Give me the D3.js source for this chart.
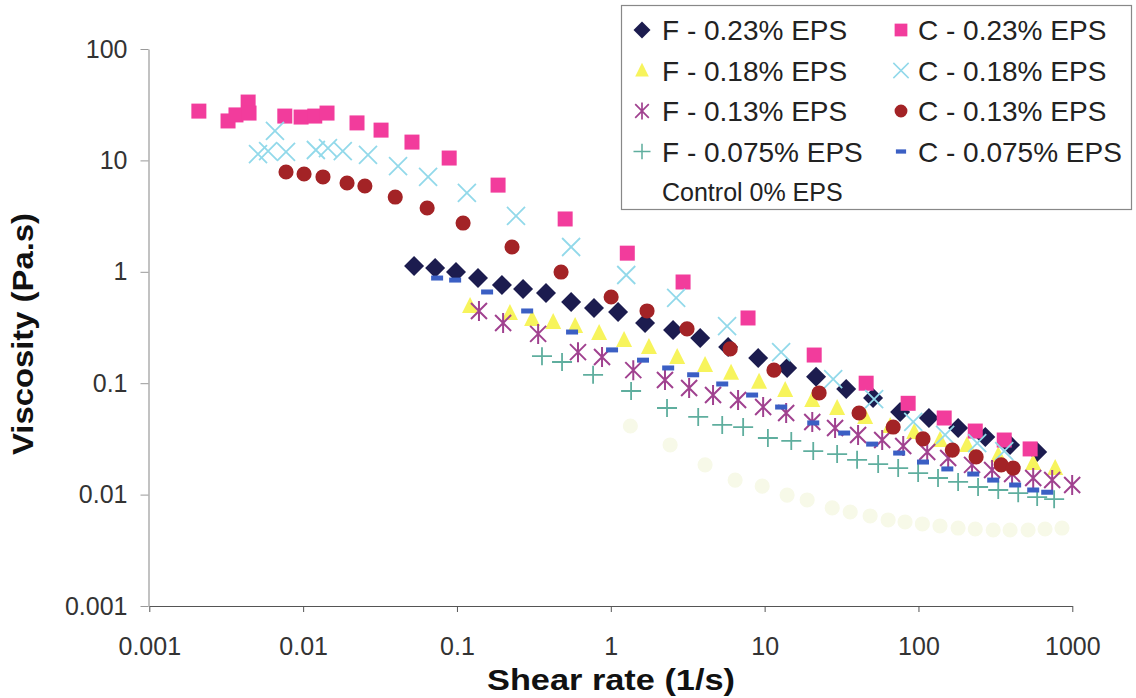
<!DOCTYPE html>
<html>
<head>
<meta charset="utf-8">
<script src="https://cdn.jsdelivr.net/npm/d3@7"></script>
<style>
  html, body { margin: 0; padding: 0; background: #fff; }
  svg { display: block; }
  text { font-family: Arial, "Liberation Sans", sans-serif; }
</style>
</head>
<body>
<svg id="chart" width="1136" height="698"></svg>
<script>
// ---------------- DATA ----------------
const xTickValues = [0.001, 0.01, 0.1, 1, 10, 100, 1000];
const xTickLabels = ["0.001", "0.01", "0.1", "1", "10", "100", "1000"];
const yTickValues = [0.001, 0.01, 0.1, 1, 10, 100];
const yTickLabels = ["0.001", "0.01", "0.1", "1", "10", "100"];

const seriesNames = ["F - 0.23% EPS", "C - 0.23% EPS", "F - 0.18% EPS", "C - 0.18% EPS",
                     "F - 0.13% EPS", "C - 0.13% EPS", "F - 0.075% EPS", "C - 0.075% EPS",
                     "Control 0% EPS"];

// F - 0.23% EPS (diamonds)
const f023Shear = [0.0526, 0.0721, 0.0986, 0.137, 0.196, 0.269, 0.379, 0.552, 0.778, 1.115, 1.67, 2.54, 3.81, 5.79, 9.08, 14.0, 21.6, 33.9, 50.7, 76.0, 117, 181, 272, 394, 591];
const f023Visc  = [1.13, 1.08, 0.995, 0.879, 0.762, 0.701, 0.645, 0.536, 0.473, 0.436, 0.347, 0.300, 0.255, 0.211, 0.168, 0.137, 0.114, 0.0887, 0.0736, 0.0551, 0.0487, 0.0396, 0.0329, 0.0279, 0.0241];

// C - 0.23% EPS (squares)
const c023Shear = [0.0021, 0.00325, 0.00366, 0.00439, 0.00445, 0.0076, 0.0097, 0.0119, 0.0143, 0.0224, 0.0321, 0.051, 0.089, 0.185, 0.505, 1.28, 2.95, 7.8, 21, 45.7, 85.7, 147, 234, 361, 532];
const c023Visc  = [27.7, 22.6, 25.6, 33.4, 26.6, 25.0, 24.5, 25.0, 26.6, 21.7, 18.7, 14.6, 10.5, 6.0, 2.98, 1.47, 0.81, 0.385, 0.179, 0.100, 0.066, 0.0487, 0.0372, 0.0309, 0.0257];

// F - 0.18% EPS (triangles)
const f018Shear = [0.1216, 0.221, 0.308, 0.422, 0.586, 0.840, 1.22, 1.77, 2.70, 4.10, 6.05, 9.20, 13.6, 20.4, 29.6, 45.0, 65.5, 93.8, 138, 207, 330, 557, 774];
const f018Visc  = [0.493, 0.427, 0.377, 0.354, 0.326, 0.282, 0.244, 0.211, 0.172, 0.146, 0.124, 0.103, 0.0869, 0.0707, 0.0599, 0.0498, 0.0413, 0.0365, 0.0309, 0.0279, 0.0226, 0.0192, 0.0173];

// C - 0.18% EPS (crosses)
const c018Shear = [0.00509, 0.00592, 0.00656, 0.00774, 0.0121, 0.0145, 0.0181, 0.0264, 0.0414, 0.0649, 0.116, 0.242, 0.552, 1.26, 2.66, 5.70, 12.8, 27.9, 51.5, 92.5, 149, 241, 361];
const c018Visc  = [11.4, 12.1, 18.4, 11.9, 12.4, 12.9, 12.1, 11.2, 8.9, 7.1, 5.1, 3.17, 1.67, 0.936, 0.582, 0.326, 0.190, 0.109, 0.0721, 0.0449, 0.0343, 0.0290, 0.0246];

// F - 0.13% EPS (asterisks)
const f013Shear = [0.139, 0.1995, 0.337, 0.612, 0.877, 1.40, 2.25, 3.23, 4.62, 6.72, 9.78, 13.8, 20.4, 28.7, 40.5, 58.1, 79.6, 114, 156, 223, 301, 406, 557, 740, 998];
const f013Visc  = [0.445, 0.347, 0.277, 0.190, 0.172, 0.131, 0.107, 0.0906, 0.0783, 0.0707, 0.0611, 0.0540, 0.0449, 0.0396, 0.0343, 0.0309, 0.0273, 0.0241, 0.0213, 0.0185, 0.0166, 0.0153, 0.0141, 0.0135, 0.0122];

// C - 0.13% EPS (circles)
const c013Shear = [0.00774, 0.01014, 0.01346, 0.0193, 0.0252, 0.0397, 0.064, 0.1096, 0.228, 0.475, 1.005, 1.72, 3.13, 5.97, 11.5, 22.6, 41.1, 68.5, 107, 166, 237, 345, 413];
const c013Visc  = [7.87, 7.55, 7.10, 6.27, 5.89, 4.69, 3.74, 2.74, 1.67, 0.995, 0.594, 0.445, 0.307, 0.203, 0.131, 0.0817, 0.0540, 0.0404, 0.0316, 0.0251, 0.0218, 0.0185, 0.0173];

// F - 0.075% EPS (plus)
const f0075Shear = [0.357, 0.482, 0.767, 1.355, 2.32, 3.70, 5.30, 7.25, 10.5, 14.9, 20.7, 29.6, 39.9, 54.7, 73.8, 99.5, 134, 181, 244, 330, 445, 591, 762];
const f0075Visc  = [0.175, 0.155, 0.119, 0.0851, 0.0599, 0.0498, 0.0422, 0.0404, 0.0322, 0.0303, 0.0246, 0.0231, 0.0205, 0.0188, 0.0173, 0.0156, 0.0141, 0.0130, 0.0117, 0.0110, 0.0103, 0.0095, 0.0091];

// C - 0.075% EPS (dashes)
const c0075Shear = [0.0743, 0.0973, 0.157, 0.286, 0.560, 1.019, 1.62, 2.36, 3.43, 5.30, 8.29, 12.8, 20.7, 32.9, 50.0, 74.9, 107, 154, 227, 306, 425, 557, 687];
const c0075Visc  = [0.879, 0.843, 0.659, 0.445, 0.288, 0.199, 0.161, 0.137, 0.119, 0.0984, 0.0783, 0.0611, 0.0440, 0.0357, 0.0284, 0.0236, 0.0196, 0.0170, 0.0153, 0.0135, 0.0122, 0.0110, 0.0105];

// Control 0% EPS (very faint)
const ctrlShear = [1.34, 2.43, 4.10, 6.43, 9.64, 14.0, 18.9, 27.5, 36.0, 48.5, 63.5, 81.8, 106, 138, 181, 234, 306, 394, 516, 665, 857];
const ctrlVisc  = [0.0413, 0.0279, 0.0185, 0.0135, 0.0119, 0.0099, 0.00895, 0.00759, 0.00698, 0.00643, 0.00592, 0.00568, 0.00545, 0.00523, 0.00501, 0.00491, 0.00481, 0.00481, 0.00481, 0.00491, 0.00501];

// ---------------- CHART ----------------
const svg = d3.select("#chart");
const x = d3.scaleLog().domain([0.001, 1000]).range([149.3, 1072.3]);
const y = d3.scaleLog().domain([0.001, 100]).range([606, 49]);

// marker shapes
const shapes = {
  diamond: () => `M0,-10L10,0L0,10L-10,0Z`,
  square: () => `M-7.5,-7.5H7.5V7.5H-7.5Z`,
  triangle: () => `M0,-9L8,7H-8Z`,
  cross: () => `M-9,-9L9,9M-9,9L9,-9`,
  asterisk: () => `M-8,-8L8,8M-8,8L8,-8M0,-10V10`,
  circle: () => d3.symbol(d3.symbolCircle, 180)(),
  plus: () => `M-10,0H10M0,-9V9`,
  dash: () => `M-6,-2.5H6V2.5H-6Z`
};

const series = [
  {name: seriesNames[8], xs: ctrlShear, ys: ctrlVisc, shape: "circle", fill: "#f7f9e8", stroke: "none", sw: 0},
  {name: seriesNames[0], xs: f023Shear, ys: f023Visc, shape: "diamond", fill: "#1c1c4f", stroke: "none", sw: 0},
  {name: seriesNames[2], xs: f018Shear, ys: f018Visc, shape: "triangle", fill: "#f7f45c", stroke: "none", sw: 0},
  {name: seriesNames[4], xs: f013Shear, ys: f013Visc, shape: "asterisk", fill: "none", stroke: "#a0418f", sw: 2},
  {name: seriesNames[6], xs: f0075Shear, ys: f0075Visc, shape: "plus", fill: "none", stroke: "#5fae9e", sw: 1.8},
  {name: seriesNames[1], xs: c023Shear, ys: c023Visc, shape: "square", fill: "#f23c9c", stroke: "none", sw: 0},
  {name: seriesNames[3], xs: c018Shear, ys: c018Visc, shape: "cross", fill: "none", stroke: "#92d9ea", sw: 1.8},
  {name: seriesNames[5], xs: c013Shear, ys: c013Visc, shape: "circle", fill: "#a32326", stroke: "none", sw: 0},
  {name: seriesNames[7], xs: c0075Shear, ys: c0075Visc, shape: "dash", fill: "#3b5fc4", stroke: "none", sw: 0}
];

// axes
const xAxis = d3.axisBottom(x).tickValues(xTickValues).tickFormat((d, i) => xTickLabels[i]).tickSize(6).tickSizeOuter(0);
const yAxis = d3.axisLeft(y).tickValues(yTickValues).tickFormat((d, i) => yTickLabels[i]).tickSize(8).tickSizeOuter(0);

const gx = svg.append("g").attr("transform", "translate(0,606)").call(xAxis);
gx.select(".domain").attr("stroke", "#555").attr("stroke-width", 1.2);
gx.selectAll(".tick line").attr("stroke", "#555");
gx.selectAll(".tick text").attr("font-size", 25).attr("fill", "#333").attr("y", 26).attr("dy", "0.9em")
  .style("font-family", "Arial, 'Liberation Sans', sans-serif");

const gy = svg.append("g").attr("transform", "translate(148.5,0)").call(yAxis);
gy.select(".domain").attr("stroke", "#999").attr("stroke-width", 1.2);
gy.selectAll(".tick line").attr("stroke", "#999");
gy.selectAll(".tick text").attr("font-size", 25).attr("fill", "#333").attr("x", -21)
  .style("font-family", "Arial, 'Liberation Sans', sans-serif");

// titles
svg.append("text").attr("x", 611).attr("y", 690).attr("text-anchor", "middle")
  .attr("font-size", 30).attr("font-weight", "bold").attr("fill", "#111")
  .attr("textLength", 248).attr("lengthAdjust", "spacingAndGlyphs")
  .style("font-family", "'Liberation Sans Narrow', 'Arial Narrow', Arial, sans-serif")
  .text("Shear rate (1/s)");
svg.append("text").attr("transform", "translate(33,334) rotate(-90)").attr("text-anchor", "middle")
  .attr("font-size", 30).attr("font-weight", "bold").attr("fill", "#111")
  .attr("textLength", 242).attr("lengthAdjust", "spacingAndGlyphs")
  .text("Viscosity (Pa.s)");

// points
const gPts = svg.append("g");
series.forEach(s => {
  gPts.append("g").selectAll("path").data(s.xs.map((v, i) => [v, s.ys[i]])).join("path")
    .attr("transform", d => `translate(${x(d[0])},${y(d[1])})`)
    .attr("d", shapes[s.shape]())
    .attr("fill", s.fill).attr("stroke", s.stroke).attr("stroke-width", s.sw);
});

// legend
const lg = svg.append("g");
lg.append("rect").attr("x", 621.5).attr("y", 5.5).attr("width", 510).attr("height", 204)
  .attr("fill", "#fff").attr("stroke", "#888").attr("stroke-width", 1.2);
const legendOrder = [1, 5, 2, 6, 3, 7, 4, 8, 0];
legendOrder.forEach((si, k) => {
  const s = series[si];
  const col = k % 2, row = Math.floor(k / 2);
  const cx = col === 0 ? 642 : 901;
  const cy = 30 + row * 40.5;
  if (si !== 0) {
    lg.append("path").attr("transform", `translate(${cx},${cy}) scale(0.85)`)
      .attr("d", shapes[s.shape]()).attr("fill", s.fill).attr("stroke", s.stroke).attr("stroke-width", s.sw);
  }
  lg.append("text").attr("x", col === 0 ? 662 : 918).attr("y", cy).attr("dy", "0.36em")
    .attr("font-size", si === 0 ? 25 : 28).attr("fill", "#222").text(s.name);
});
</script>
</body>
</html>
